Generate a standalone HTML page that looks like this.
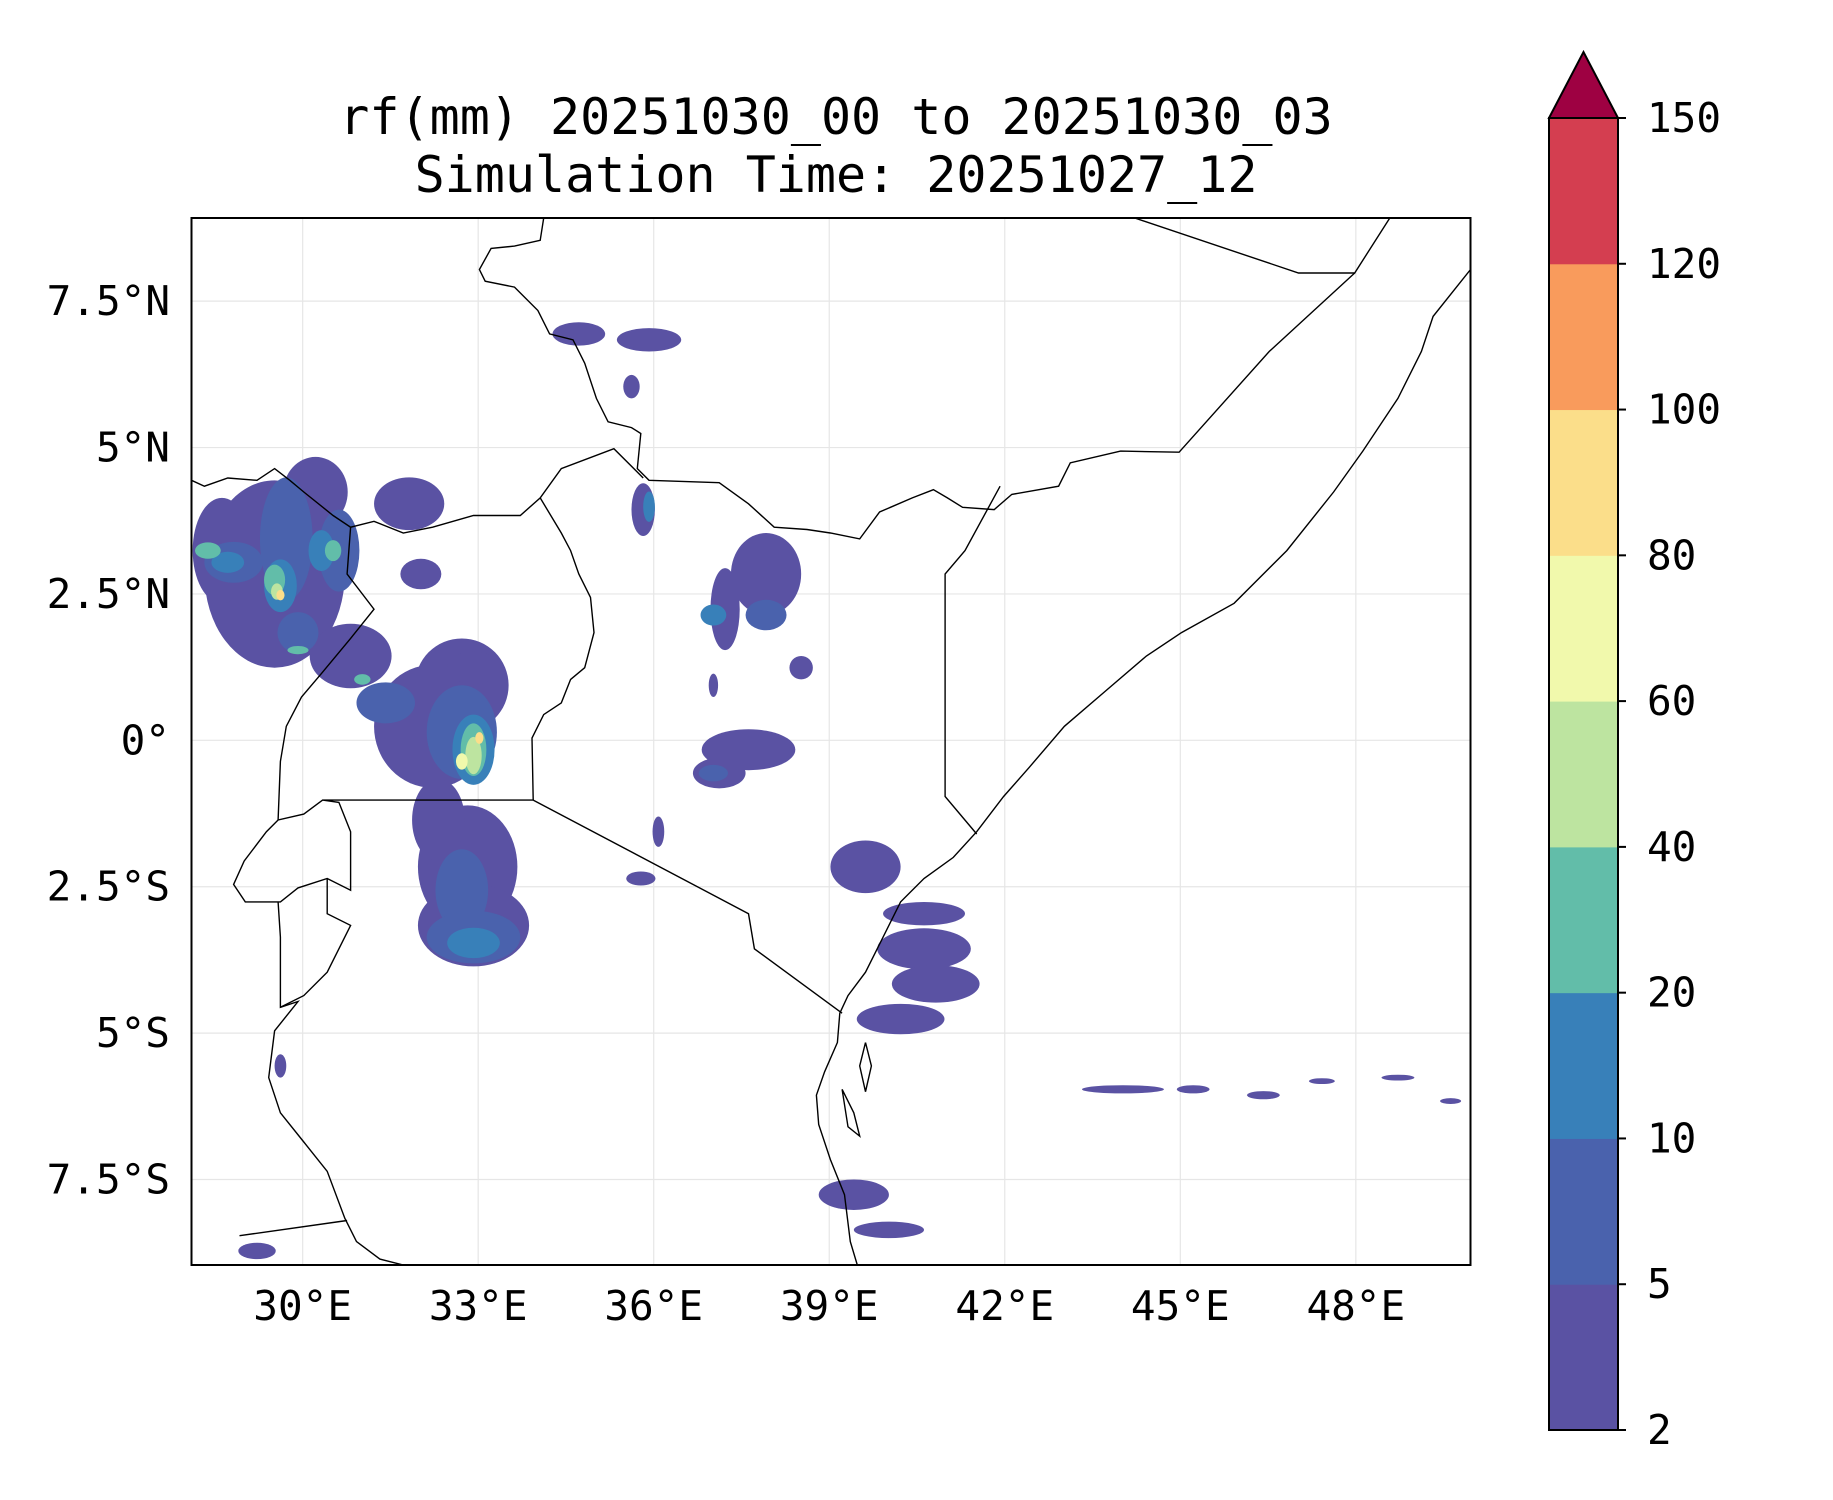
<!DOCTYPE html>
<html><head><meta charset="utf-8"><style>
html,body{margin:0;padding:0;background:#fff}
svg{display:block}
text{font-family:"DejaVu Sans Mono","Liberation Mono",monospace;fill:#000}
</style></head><body>
<svg id="fig" width="1833" height="1500" viewBox="0 0 1833 1500" xmlns="http://www.w3.org/2000/svg">
<text x="836" y="134" font-size="50" text-anchor="middle">rf(mm) 20251030_00 to 20251030_03</text>
<text x="836" y="192" font-size="50" text-anchor="middle">Simulation Time: 20251027_12</text>
<defs><clipPath id="mapclip"><rect x="191.5" y="218" width="1279" height="1047"/></clipPath></defs>
<g id="grid"></g>
<g id="rain" clip-path="url(#mapclip)"></g>
<g id="borders" clip-path="url(#mapclip)" fill="none" stroke="#000" stroke-width="1.4"></g>
<rect x="191.5" y="218" width="1279" height="1047" fill="none" stroke="#000" stroke-width="2"/>
<g id="ticks"></g>
<g id="cbar"></g>
</svg>
<script>
const lonTicks=[30,33,36,39,42,45,48];
const lonLabels=["30°E","33°E","36°E","39°E","42°E","45°E","48°E"];
const latTicks=[7.5,5,2.5,0,-2.5,-5,-7.5];
const latLabels=["7.5°N","5°N","2.5°N","0°","2.5°S","5°S","7.5°S"];
const levels=[2,5,10,20,40,60,80,100,120,150];
const colors=["#5a52a3","#4a62ad","#3880b9","#62bda9","#bde4a0","#f1f9ac","#fbde8a","#f99b5c","#d43e50"];
const extendColor="#9e0142";
// rain blobs: lon, lat, radius lon, radius lat, level index
const blobLon=[29.52,30.22,31.82,28.62,30.82,32.22,32.72,32.92,32.82,32.92,32.32,32.02,34.72,35.92,35.62,35.82,37.92,37.22,38.52,37.02,37.62,37.12,36.08,35.78,39.62,40.62,40.82,40.22,40.62,39.42,40.02,29.62,29.22,44.02,45.22,46.42,47.42,48.72,49.62,
29.72,30.62,28.82,29.92,31.42,32.72,32.72,32.92,37.92,37.02,
29.62,30.32,28.72,32.92,32.92,37.02,35.92,
29.52,30.52,28.38,32.92,31.02,29.92,
29.56,32.92,
32.72,29.62,33.02];
const blobLat=[2.84,4.24,4.04,3.24,1.44,0.24,0.94,1.24,-2.16,-3.16,-1.36,2.84,6.94,6.84,6.04,3.94,2.84,2.24,1.24,0.94,-0.16,-0.56,-1.56,-2.36,-2.16,-3.56,-4.16,-4.76,-2.96,-7.76,-8.36,-5.56,-8.72,-5.96,-5.96,-6.06,-5.82,-5.76,-6.16,
3.44,3.24,3.04,1.84,0.64,0.14,-2.56,-3.36,2.14,-0.56,
2.64,3.24,3.04,-0.16,-3.46,2.14,3.99,
2.74,3.24,3.24,-0.16,1.04,1.54,
2.54,-0.26,
-0.36,2.48,0.04];
const blobRx=[1.2,0.55,0.6,0.5,0.7,1.0,0.8,0.45,0.85,0.95,0.45,0.35,0.45,0.55,0.14,0.2,0.6,0.25,0.2,0.08,0.8,0.45,0.1,0.25,0.6,0.8,0.75,0.75,0.7,0.6,0.6,0.1,0.32,0.7,0.28,0.28,0.22,0.28,0.18,
0.45,0.35,0.5,0.35,0.5,0.6,0.45,0.8,0.35,0.25,
0.28,0.22,0.28,0.36,0.45,0.22,0.1,
0.18,0.14,0.22,0.22,0.14,0.18,
0.1,0.14,
0.1,0.07,0.07];
const blobRy=[1.6,0.6,0.45,0.9,0.55,1.05,0.8,0.28,1.05,0.7,0.7,0.26,0.2,0.2,0.2,0.45,0.7,0.7,0.2,0.2,0.35,0.26,0.26,0.12,0.45,0.35,0.32,0.26,0.2,0.26,0.14,0.2,0.14,0.07,0.07,0.07,0.05,0.05,0.05,
1.05,0.7,0.35,0.35,0.35,0.8,0.7,0.45,0.26,0.14,
0.45,0.35,0.18,0.6,0.26,0.18,0.26,
0.26,0.18,0.14,0.45,0.09,0.07,
0.14,0.32,
0.14,0.09,0.1];
const blobLevel=[0,0,0,0,0,0,0,0,0,0,0,0,0,0,0,0,0,0,0,0,0,0,0,0,0,0,0,0,0,0,0,0,0,0,0,0,0,0,0,
1,1,1,1,1,1,1,1,1,1,
2,2,2,2,2,2,2,
3,3,3,3,3,3,
4,4,
5,6,6];
// borders/coastlines (lon,lat pairs flattened per line)
const lines=[
[39.48,-8.96,39.36,-8.56,39.26,-7.76,39.02,-7.16,38.82,-6.56,38.78,-6.06,38.92,-5.66,39.14,-5.16,39.18,-4.66,39.32,-4.36,39.62,-3.96,39.92,-3.36,40.22,-2.76,40.62,-2.36,41.12,-2.0,41.52,-1.56,41.98,-0.96,42.42,-0.46,43.02,0.24,43.72,0.84,44.42,1.44,45.02,1.84,45.92,2.34,46.82,3.24,47.62,4.24,48.12,4.94,48.72,5.84,49.12,6.64,49.32,7.24,49.72,7.74,49.96,8.04],
[48.58,8.92,47.98,7.98,47.02,7.98,44.22,8.92],
[47.98,7.98,46.52,6.64,44.98,4.92,43.98,4.94,43.12,4.74,42.92,4.34,42.12,4.2,41.82,3.94,41.28,3.98,41.02,4.14,40.78,4.28,40.42,4.14,39.86,3.9,39.52,3.44,39.02,3.54,38.62,3.6,38.06,3.64,37.62,4.04,37.12,4.4,35.92,4.44,35.72,4.64,35.78,5.24,35.62,5.34,35.22,5.44,35.02,5.84,34.82,6.44,34.62,6.84,34.22,6.94,34.02,7.34,33.62,7.74,33.12,7.84,33.02,8.04,33.22,8.4,33.62,8.44,34.06,8.54,34.12,8.92],
[41.92,4.34,41.32,3.24,40.98,2.84,40.98,-0.96,41.52,-1.6],
[35.82,4.48,35.32,4.98,34.42,4.64,34.06,4.14,33.72,3.84,32.92,3.84,32.22,3.64,31.72,3.54,31.22,3.74,30.82,3.64,30.52,3.84,30.02,4.24,29.78,4.44,29.52,4.64,29.22,4.44,28.72,4.48,28.32,4.34,28.1,4.44],
[34.06,4.14,34.42,3.54,34.58,3.24,34.72,2.84,34.92,2.44,34.98,1.84,34.82,1.24,34.58,1.04,34.42,0.64,34.12,0.44,33.92,0.04,33.94,-1.02],
[33.94,-1.02,37.62,-2.96,37.72,-3.56,39.22,-4.66],
[33.94,-1.02,30.34,-1.02,30.02,-1.26,29.58,-1.36,29.38,-1.56,29.0,-2.06,28.82,-2.46,29.02,-2.76,29.62,-2.76,29.92,-2.52,30.42,-2.36,30.82,-2.56,30.82,-1.56,30.62,-1.06,30.34,-1.02],
[30.82,3.64,30.76,2.84,31.22,2.24,30.82,1.74,30.32,1.14,29.98,0.74,29.72,0.24,29.62,-0.36,29.58,-1.36],
[29.58,-2.76,29.62,-3.36,29.62,-4.56,30.02,-4.36,30.42,-3.96,30.82,-3.16,30.42,-2.96,30.42,-2.36],
[29.62,-4.56,29.92,-4.46,29.52,-4.96,29.42,-5.76,29.62,-6.36,30.02,-6.86,30.42,-7.36,30.72,-8.16,30.92,-8.56,31.32,-8.86,31.72,-8.96],
[28.92,-8.46,30.76,-8.2],
[39.62,-5.16,39.72,-5.56,39.62,-6.0,39.52,-5.56,39.62,-5.16],
[39.22,-5.96,39.42,-6.36,39.52,-6.76,39.32,-6.6,39.22,-5.96]
];
const X0=191.5,Y0=218,W=1279,H=1047,LON0=28.1,LON1=49.96,LAT0=-8.96,LAT1=8.92;
const sx=lon=>X0+(lon-LON0)/(LON1-LON0)*W;
const sy=lat=>Y0+(LAT1-lat)/(LAT1-LAT0)*H;
const NS="http://www.w3.org/2000/svg";
function mk(tag,attrs,parent){const e=document.createElementNS(NS,tag);for(const k in attrs)e.setAttribute(k,attrs[k]);parent.appendChild(e);return e;}
const grid=document.getElementById('grid'),ticks=document.getElementById('ticks');
lonTicks.forEach((v,i)=>{
 const l=mk('line',{x1:sx(v),x2:sx(v),y1:Y0,y2:Y0+H,stroke:'#e6e6e6','stroke-width':1.2},grid);
 
 
 const t=mk('text',{x:sx(v),y:1320,'font-size':41,'text-anchor':'middle'},ticks);t.textContent=lonLabels[i];
 
 
});
latTicks.forEach((v,i)=>{
 const l=mk('line',{x1:X0,x2:X0+W,y1:sy(v),y2:sy(v),stroke:'#e6e6e6','stroke-width':1.2},grid);
 
 
 const t=mk('text',{x:170,y:sy(v)+14,'font-size':41,'text-anchor':'end'},ticks);t.textContent=latLabels[i];
 
 
});
const rain=document.getElementById('rain');
const order=blobLevel.map((l,i)=>i).sort((a,b)=>blobLevel[a]-blobLevel[b]);
order.forEach(i=>{
 const e=mk('ellipse',{cx:sx(blobLon[i]),cy:sy(blobLat[i]),rx:blobRx[i]/(LON1-LON0)*W,ry:blobRy[i]/(LAT1-LAT0)*H,fill:colors[blobLevel[i]]},rain);
 
 
});
const borders=document.getElementById('borders');
lines.forEach(a=>{
 let pts=[];for(let j=0;j<a.length;j+=2)pts.push(sx(a[j]).toFixed(1)+','+sy(a[j+1]).toFixed(1));
 const p=mk('polyline',{points:pts.join(' ')},borders);
 
 
});
// colorbar
const cb=document.getElementById('cbar');
const CX=1549,CW=69,CT=118,CB=1430;
const step=(CB-CT)/(levels.length-1);
colors.forEach((c,i)=>{
 const r=mk('rect',{x:CX,y:CB-(i+1)*step,width:CW,height:step+0.5,fill:c},cb);
 
 
});
const tri=mk('polygon',{points:`${CX},${CT} ${CX+CW/2},52 ${CX+CW},${CT}`,fill:extendColor,stroke:'#000','stroke-width':2},cb);


const fr=mk('rect',{x:CX,y:CT,width:CW,height:CB-CT,fill:'none',stroke:'#000','stroke-width':2},cb);


levels.forEach((v,i)=>{
 const y=CB-i*step;
 mk('line',{x1:CX+CW,x2:CX+CW+8,y1:y,y2:y,stroke:'#000','stroke-width':2},cb);
 const t=mk('text',{x:1647,y:y+14,'font-size':41},cb);t.textContent=v;
 
 
});
</script>
</body></html>
